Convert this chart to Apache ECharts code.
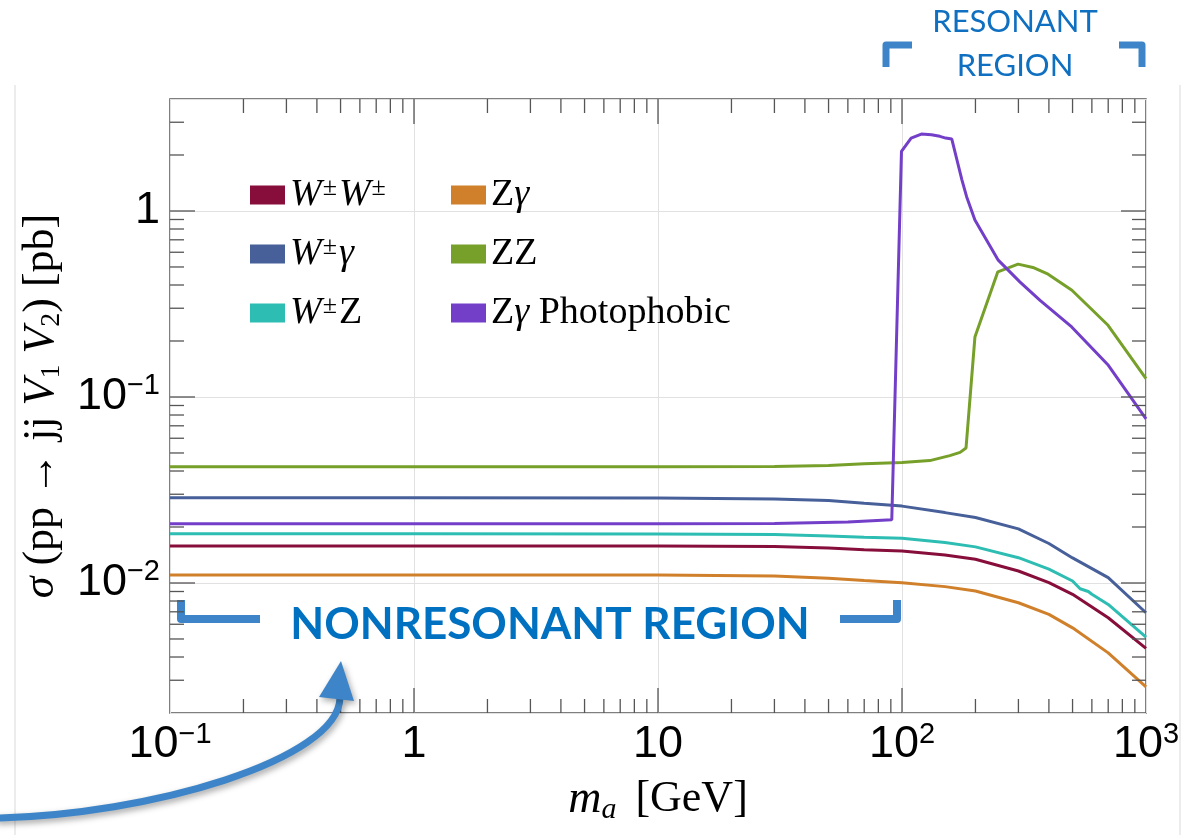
<!DOCTYPE html>
<html><head><meta charset="utf-8">
<script src="https://cdn.jsdelivr.net/npm/echarts@6/dist/echarts.min.js"></script>
<style>html,body{margin:0;padding:0;background:#fff}#chart{width:1194px;height:835px}</style>
</head><body><div id="chart"></div>
<script>
// ---------- data ----------
const seriesNames = ['W±W±', 'W±γ', 'W±Z', 'Zγ', 'ZZ', 'Zγ Photophobic'];
const seriesColors = ['#870e3b', '#47609a', '#2ebdb3', '#d0802a', '#76a02a', '#733fc9'];

const massWW = [0.1, 1, 10, 30, 50, 70, 100, 150, 200, 300, 400, 500, 700, 1000];
const xsecWW = [0.01583, 0.01583, 0.01582, 0.0157, 0.0154, 0.0151, 0.01488, 0.01416, 0.01342, 0.0116, 0.01004, 0.00869, 0.0065, 0.00445];

const massWA = [0.1, 1, 10, 30, 50, 70, 100, 150, 200, 300, 400, 500, 700, 1000];
const xsecWA = [0.0287, 0.0287, 0.0286, 0.0283, 0.0278, 0.0268, 0.0259, 0.0239, 0.0225, 0.01955, 0.0163, 0.01364, 0.01069, 0.00692];

const massWZ = [0.1, 1, 10, 30, 50, 70, 100, 150, 200, 300, 400, 500, 537, 580, 600, 700, 1000];
const xsecWZ = [0.01837, 0.01837, 0.01835, 0.0182, 0.0179, 0.0176, 0.01741, 0.01649, 0.01564, 0.01368, 0.01186, 0.01025, 0.00931, 0.0090, 0.0087, 0.00767, 0.00512];

const massZA = [0.1, 1, 10, 30, 50, 70, 100, 150, 200, 300, 400, 500, 700, 1000];
const xsecZA = [0.01104, 0.01104, 0.01103, 0.0109, 0.0106, 0.0103, 0.01004, 0.00956, 0.00906, 0.00783, 0.00678, 0.00574, 0.00421, 0.00276];

const massZZ = [0.1, 1, 10, 30, 50, 70, 100, 130, 157, 173, 183, 199, 247, 299, 344, 397, 497, 699, 1000];
const xsecZZ = [0.0422, 0.0422, 0.0422, 0.0423, 0.0428, 0.0437, 0.0445, 0.0455, 0.0484, 0.0504, 0.0532, 0.21, 0.471, 0.518, 0.497, 0.457, 0.375, 0.243, 0.1254];

const massZAphob = [0.1, 1, 10, 30, 60, 90.8, 99.5, 109, 120, 132, 143, 151, 160, 168, 176, 184, 199, 222, 248, 304, 368, 496, 701, 1000];
const xsecZAphob = [0.0208, 0.0208, 0.0208, 0.0209, 0.0213, 0.0219, 2.09, 2.465, 2.59, 2.57, 2.52, 2.465, 2.435, 1.88, 1.47, 1.194, 0.894, 0.698, 0.544, 0.416, 0.331, 0.238, 0.148, 0.0762];

const xTickValues = [0.1, 1, 10, 100, 1000];
const xTickLabels = ['{b|10}{s|−1}', '1', '10', '{b|10}{s|2}', '{b|10}{s|3}'];
const yTickValues = [0.01, 0.1, 1];
const yTickLabels = ['{b|10}{s|−2}', '{b|10}{s|−1}', '1'];

const legendLabels = {
  'W±W±': '{i|W}{p|±}{i|W}{p|±}',
  'W±γ': '{i|W}{p|±}{i|γ}',
  'W±Z': '{i|W}{p|±}Z',
  'Zγ': 'Z{i|γ}',
  'ZZ': 'ZZ',
  'Zγ Photophobic': 'Z{i|γ} Photophobic'
};

const X_MIN = 0.1, X_MAX = 1000, Y_MIN = 0.002, Y_MAX = 4;

// ---------- helpers ----------
const massArrays = [massWW, massWA, massWZ, massZA, massZZ, massZAphob];
const xsecArrays = [xsecWW, xsecWA, xsecWZ, xsecZA, xsecZZ, xsecZAphob];

function lookupLabel(v, vals, labels) {
  for (let i = 0; i < vals.length; i++) {
    if (Math.abs(Math.log10(v) - Math.log10(vals[i])) < 1e-6) return labels[i];
  }
  return '';
}

// minor/major tick positions (log decades 2..9)
const xTickData = [];
for (let e = -1; e <= 2; e++) {
  for (let m = 1; m <= 9; m++) {
    const v = m * Math.pow(10, e);
    if (v <= X_MIN * 1.0001 || v >= X_MAX * 0.9999) continue;
    xTickData.push([v, 1, m === 1 ? 1 : 0]);
  }
}
const yTickData = [];
for (let e = -3; e <= 0; e++) {
  for (let m = 1; m <= 9; m++) {
    const v = m * Math.pow(10, e);
    if (v <= Y_MIN * 1.0001 || v >= Y_MAX * 0.9999) continue;
    yTickData.push([1, v, m === 1 ? 1 : 0]);
  }
}
const TICK_COLOR = '#555';
function xTickRender(params, api) {
  const cs = params.coordSys;
  const p = api.coord([api.value(0), 1])[0];
  const len = api.value(2) ? 25 : 14;
  const st = { stroke: TICK_COLOR, lineWidth: 1.3 };
  return { type: 'group', children: [
    { type: 'line', shape: { x1: p, y1: cs.y + cs.height, x2: p, y2: cs.y + cs.height - len }, style: st },
    { type: 'line', shape: { x1: p, y1: cs.y, x2: p, y2: cs.y + len }, style: st }
  ]};
}
function yTickRender(params, api) {
  const cs = params.coordSys;
  const p = api.coord([1, api.value(1)])[1];
  const len = api.value(2) ? 25 : 14;
  const st = { stroke: TICK_COLOR, lineWidth: 1.3 };
  return { type: 'group', children: [
    { type: 'line', shape: { x1: cs.x, y1: p, x2: cs.x + len, y2: p }, style: st },
    { type: 'line', shape: { x1: cs.x + cs.width, y1: p, x2: cs.x + cs.width - len, y2: p }, style: st }
  ]};
}

const SERIF = "'Liberation Serif', 'DejaVu Serif', serif";
const SANS = "'Liberation Sans', Arial, sans-serif";
const NOTE = "Lato, 'Open Sans', sans-serif";

const labelRich = {
  b: { fontFamily: SANS, fontSize: 45, lineHeight: 50, color: '#000' },
  s: { fontFamily: SANS, fontSize: 29, lineHeight: 20, verticalAlign: 'top', color: '#000' }
};

const lineSeries = seriesNames.map((name, i) => ({
  name: name,
  type: 'line',
  data: massArrays[i].map((m, k) => [m, xsecArrays[i][k]]),
  showSymbol: false,
  symbol: 'none',
  smooth: false,
  color: seriesColors[i],
  lineStyle: { width: 3, color: seriesColors[i] },
  itemStyle: { color: seriesColors[i] },
  z: 3,
  silent: true
}));

const legendText = {
  fontFamily: SERIF, fontSize: 38, lineHeight: 40, color: '#000',
  rich: {
    i: { fontFamily: SERIF, fontStyle: 'italic', fontSize: 38, lineHeight: 40, color: '#000' },
    p: { fontFamily: SERIF, fontSize: 26, lineHeight: 20, verticalAlign: 'top', color: '#000', padding: [0, 2, 0, 1] }
  }
};
function legendCfg(names, left) {
  return {
    data: names, left: left, top: 175, orient: 'vertical', padding: 0,
    itemGap: 19, itemWidth: 35, itemHeight: 19, icon: 'rect', selectedMode: false,
    itemStyle: { borderWidth: 0 },
    textStyle: legendText,
    formatter: n => legendLabels[n]
  };
}

const ANN = '#3d85c8';
const option = {
  animation: false,
  backgroundColor: '#fff',
  grid: { left: 170, right: 48, top: 99, bottom: 122, show: true, borderColor: '#555', borderWidth: 1.5, backgroundColor: 'transparent' },
  legend: [legendCfg(seriesNames.slice(0, 3), 250), legendCfg(seriesNames.slice(3), 451)],
  xAxis: {
    type: 'log', logBase: 10, min: X_MIN, max: X_MAX,
    axisLine: { show: false }, axisTick: { show: false },
    splitLine: { show: true, lineStyle: { color: '#e1e1e1', width: 1 } },
    axisLabel: {
      margin: 7, showMinLabel: true, showMaxLabel: true,
      fontFamily: SANS, fontSize: 45, lineHeight: 50, color: '#000', rich: labelRich,
      formatter: v => lookupLabel(v, xTickValues, xTickLabels)
    },
    name: '{i|m}{s|a} [GeV]', nameLocation: 'middle', nameGap: 60,
    nameTextStyle: {
      fontFamily: SERIF, fontSize: 44, lineHeight: 50, color: '#000',
      rich: {
        i: { fontFamily: SERIF, fontStyle: 'italic', fontSize: 46, lineHeight: 50, color: '#000' },
        s: { fontFamily: SERIF, fontStyle: 'italic', fontSize: 30, lineHeight: 26, verticalAlign: 'bottom', color: '#000', padding: [0, 8, 0, 0] }
      }
    }
  },
  yAxis: {
    type: 'log', logBase: 10, min: Y_MIN, max: Y_MAX,
    axisLine: { show: false }, axisTick: { show: false },
    splitLine: { show: true, lineStyle: { color: '#e1e1e1', width: 1 } },
    axisLabel: {
      margin: 10, fontFamily: SANS, fontSize: 45, lineHeight: 50, color: '#000', rich: labelRich,
      formatter: v => lookupLabel(v, yTickValues, yTickLabels)
    },
    name: '{i|σ} (pp → jj {i|V}{s|1} {i|V}{s|2}) [pb]', nameLocation: 'middle', nameGap: 104, nameRotate: 90,
    nameTextStyle: {
      fontFamily: SERIF, fontSize: 44, lineHeight: 50, color: '#000',
      rich: {
        i: { fontFamily: SERIF, fontStyle: 'italic', fontSize: 44, lineHeight: 50, color: '#000' },
        s: { fontFamily: SERIF, fontSize: 28, lineHeight: 26, verticalAlign: 'bottom', color: '#000' }
      }
    }
  },
  series: lineSeries.concat([
    { type: 'custom', name: 'xticks', data: xTickData, renderItem: xTickRender, silent: true, clip: false, z: 4 },
    { type: 'custom', name: 'yticks', data: yTickData, renderItem: yTickRender, silent: true, clip: false, z: 4 }
  ]),
  graphic: [
    { type: 'line', shape: { x1: 15, y1: 85, x2: 15, y2: 835 }, style: { stroke: '#ececec', lineWidth: 2 }, silent: true },
    { type: 'line', shape: { x1: 1180, y1: 85, x2: 1180, y2: 835 }, style: { stroke: '#ececec', lineWidth: 2 }, silent: true },
    { type: 'text', style: { text: 'RESONANT', x: 1015, y: 22, align: 'center', verticalAlign: 'middle', font: '31px ' + NOTE, fill: '#0f6fc0' }, silent: true },
    { type: 'text', style: { text: 'REGION', x: 1015, y: 66, align: 'center', verticalAlign: 'middle', font: '31px ' + NOTE, fill: '#0f6fc0' }, silent: true },
    { type: 'polyline', shape: { points: [[886, 67], [886, 45], [912, 45]] }, style: { stroke: ANN, lineWidth: 7, fill: null, lineJoin: 'round' }, silent: true },
    { type: 'polyline', shape: { points: [[1119, 45], [1142, 45], [1142, 67]] }, style: { stroke: ANN, lineWidth: 7, fill: null, lineJoin: 'round' }, silent: true },
    { type: 'text', style: { text: 'NONRESONANT REGION', x: 550, y: 625, align: 'center', verticalAlign: 'middle', font: 'bold 44px ' + NOTE, fill: '#0070c0' }, silent: true, z: 10 },
    { type: 'polyline', shape: { points: [[181, 600], [181, 619], [260, 619]] }, style: { stroke: ANN, lineWidth: 8, fill: null, lineJoin: 'round' }, silent: true },
    { type: 'polyline', shape: { points: [[840, 619], [897, 619], [897, 600]] }, style: { stroke: ANN, lineWidth: 8, fill: null, lineJoin: 'round' }, silent: true },
    { type: 'bezierCurve', shape: { x1: -5, y1: 818, cpx1: 150, cpy1: 815, cpx2: 338, cpy2: 760, x2: 340, y2: 698 },
      style: { stroke: ANN, lineWidth: 7, fill: null, shadowBlur: 6, shadowColor: 'rgba(0,0,0,0.35)', shadowOffsetX: 2, shadowOffsetY: 3 }, silent: true, z: 10 },
    { type: 'polygon', shape: { points: [[341, 661], [319, 697], [354, 701]] },
      style: { fill: ANN, shadowBlur: 6, shadowColor: 'rgba(0,0,0,0.35)', shadowOffsetX: 2, shadowOffsetY: 3 }, silent: true, z: 10 }
  ]
};

const chart = echarts.init(document.getElementById('chart'), null, { renderer: 'canvas' });
chart.setOption(option);
</script>
</body></html>
